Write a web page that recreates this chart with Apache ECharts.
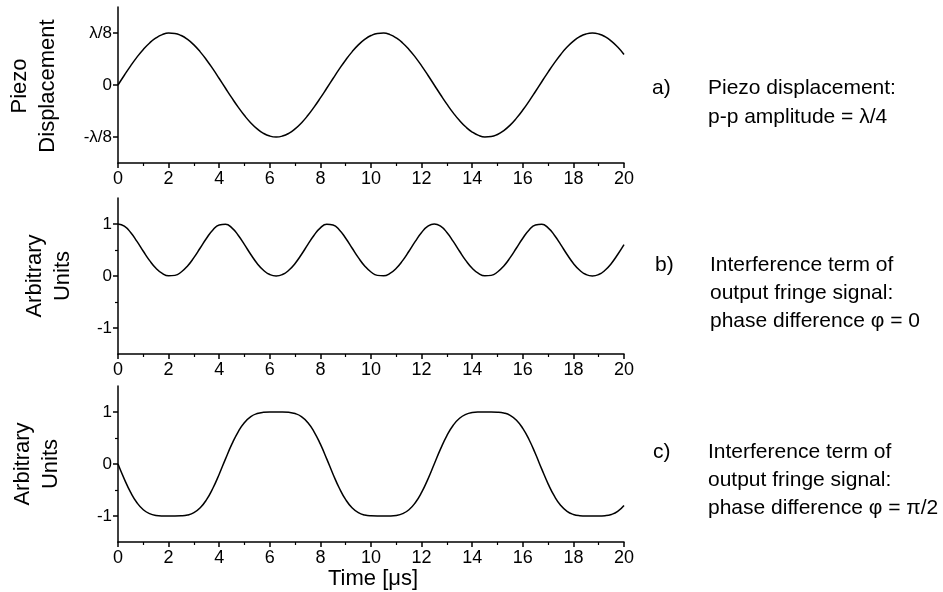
<!DOCTYPE html>
<html>
<head>
<meta charset="utf-8">
<script src="https://cdn.jsdelivr.net/npm/echarts@6/dist/echarts.min.js"></script>
<style>
  html, body { margin: 0; padding: 0; background: #fff; }
  #chart { width: 943px; height: 592px; }
</style>
</head>
<body>
<div id="chart"></div>
<script>
// time samples [µs]
const times = [
  0, 0.25, 0.5, 0.75, 1, 1.25, 1.5, 1.75, 2, 2.25, 2.5, 2.75, 3, 3.25, 3.5, 3.75,
  4, 4.25, 4.5, 4.75, 5, 5.25, 5.5, 5.75, 6, 6.25, 6.5, 6.75, 7, 7.25, 7.5, 7.75,
  8, 8.25, 8.5, 8.75, 9, 9.25, 9.5, 9.75, 10, 10.25, 10.5, 10.75, 11, 11.25, 11.5, 11.75,
  12, 12.25, 12.5, 12.75, 13, 13.25, 13.5, 13.75, 14, 14.25, 14.5, 14.75, 15, 15.25, 15.5, 15.75,
  16, 16.25, 16.5, 16.75, 17, 17.25, 17.5, 17.75, 18, 18.25, 18.5, 18.75, 19, 19.25, 19.5, 19.75, 20
];

// a) piezo displacement, in units of lambda/8
const piezo = [
  0, .187, .368, .536, .685, .809, .905, .969, .998, .992, .951, .876, .771, .637, .482, .309, .125,
  -.063, -.249, -.426, -.588, -.729, -.844, -.930, -.982, -1, -.982, -.930, -.844, -.729, -.588, -.426, -.249, -.063,
  .125, .309, .482, .637, .771, .876, .951, .992, .998, .969, .905, .809, .685, .536, .368, .187,
  0,
  -.187, -.368, -.536, -.685, -.809, -.905, -.969, -.998, -.992, -.951, -.876, -.771, -.637, -.482, -.309, -.125,
  .063, .249, .426, .588, .729, .844, .930, .982, 1, .982, .930, .844, .729, .588
];

// b) interference term, phase difference 0
const fringeZero = [
  1, .957, .837, .666, .476, .296, .149, .049, .003, .012, .077, .193, .353, .539, .727, .885, .981,
  .995, .925, .784, .603, .413, .242, .110, .028, 0, .028, .110, .242, .413, .603, .784, .925, .995,
  .981, .885, .727, .539, .353, .193, .077, .012, .003, .049, .149, .296, .476, .666, .837, .957,
  1,
  .957, .837, .666, .476, .296, .149, .049, .003, .012, .077, .193, .353, .539, .727, .885, .981,
  .995, .925, .784, .603, .413, .242, .110, .028, 0, .028, .110, .242, .413, .603
];

// c) interference term, phase difference pi/2
const fringeHalfPi = [
  0, -.290, -.547, -.746, -.880, -.955, -.989, -.999, -1, -1, -.997, -.981, -.936, -.842, -.686, -.467, -.196,
  .099, .381, .620, .798, .911, .970, .994, 1, 1, 1, .994, .970, .911, .798, .620, .381, .099,
  -.196, -.467, -.686, -.842, -.936, -.981, -.997, -1, -1, -.999, -.989, -.955, -.880, -.746, -.547, -.290,
  0,
  .290, .547, .746, .880, .955, .989, .999, 1, 1, .997, .981, .936, .842, .686, .467, .196,
  -.099, -.381, -.620, -.798, -.911, -.970, -.994, -1, -1, -1, -.994, -.970, -.911, -.798
];

const yMajor = [-1, 0, 1];
const yMinor = [-0.5, 0.5];
const piezoLabels = { '-1': '-λ/8', '0': '0', '1': 'λ/8' };

const FONT = 'Liberation Sans, Arial, sans-serif';
const tops = [7, 198, 386];

const chart = echarts.init(document.getElementById('chart'));

const grids = tops.map(t => ({ left: 118, top: t, width: 506, height: 156 }));

const xAxes = tops.map((t, i) => ({
  gridIndex: i,
  type: 'value',
  min: 0,
  max: 20,
  interval: 2,
  axisLine: { onZero: false, lineStyle: { color: '#000', width: 1.5 } },
  axisTick: { inside: false, length: 5, lineStyle: { color: '#000', width: 1.5 } },
  minorTick: { show: true, splitNumber: 2, length: 3, lineStyle: { color: '#000', width: 1.2 } },
  axisLabel: { color: '#000', fontSize: 18, fontFamily: FONT, margin: 7 },
  splitLine: { show: false },
}));

const yAxes = [];
tops.forEach((t, i) => {
  // main axis with labels
  yAxes.push({
    gridIndex: i,
    type: 'value',
    position: 'left',
    min: -1.5,
    max: 1.5,
    interval: 0.5,
    axisLine: { show: true, onZero: false, lineStyle: { color: '#000', width: 1.5 } },
    axisTick: { show: true, length: 5, customValues: yMajor, lineStyle: { color: '#000', width: 1.5 } },
    axisLabel: {
      color: '#000',
      fontSize: 17,
      fontFamily: FONT,
      margin: 6,
      customValues: yMajor,
      formatter: v => (i === 0 ? piezoLabels[String(Math.round(v))] : String(Math.round(v))),
    },
    splitLine: { show: false },
  });
});
// minor y ticks for panels b and c
[1, 2].forEach(i => {
  yAxes.push({
    gridIndex: i,
    type: 'value',
    position: 'left',
    min: -1.5,
    max: 1.5,
    interval: 0.5,
    axisLine: { show: false, onZero: false },
    axisTick: { show: true, length: 3, customValues: yMinor, lineStyle: { color: '#000', width: 1.2 } },
    axisLabel: { show: false },
    splitLine: { show: false },
  });
});

const curves = [piezo, fringeZero, fringeHalfPi];
const series = curves.map((vals, i) => ({
  type: 'line',
  xAxisIndex: i,
  yAxisIndex: i,
  data: times.map((t, j) => [t, vals[j]]),
  showSymbol: false,
  smooth: true,
  silent: true,
  lineStyle: { color: '#000', width: 1.5 },
}));

// text helper; y is the centre of the first line
function txt(x, y, text, size, lh) {
  return {
    type: 'text',
    x: x,
    y: y - lh / 2,
    style: {
      text: text,
      fill: '#000',
      font: size + 'px ' + FONT,
      lineHeight: lh,
      textAlign: 'left',
      textVerticalAlign: 'top',
    },
  };
}

function yName(x, y, text) {
  return {
    type: 'text',
    x: x,
    y: y,
    rotation: Math.PI / 2,
    style: {
      text: text,
      fill: '#000',
      font: '22px ' + FONT,
      lineHeight: 28,
      textAlign: 'center',
      textVerticalAlign: 'middle',
    },
  };
}

const graphics = [
  yName(34, 86, 'Piezo\nDisplacement'),
  yName(49, 276, 'Arbitrary\nUnits'),
  yName(37, 464, 'Arbitrary\nUnits'),
  {
    type: 'text', x: 373, y: 579,
    style: { text: 'Time [μs]', fill: '#000', font: '22px ' + FONT, textAlign: 'center', textVerticalAlign: 'middle' },
  },
  txt(652, 88, 'a)', 21, 29),
  txt(708, 88, 'Piezo displacement:\np-p amplitude = λ/4', 21, 29),
  txt(655, 265, 'b)', 21, 28),
  txt(710, 265, 'Interference term of\noutput fringe signal:\nphase difference φ = 0', 21, 28),
  txt(653, 452, 'c)', 21, 28),
  txt(708, 452, 'Interference term of\noutput fringe signal:\nphase difference φ = π/2', 21, 28),
];

chart.setOption({
  animation: false,
  backgroundColor: '#fff',
  grid: grids,
  xAxis: xAxes,
  yAxis: yAxes,
  series: series,
  graphic: graphics,
});
</script>
</body>
</html>
